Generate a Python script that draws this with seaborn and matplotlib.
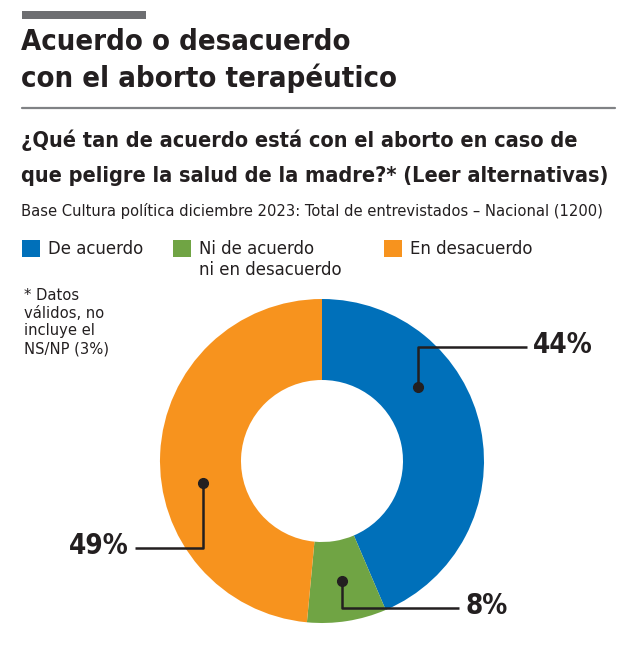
import matplotlib
matplotlib.use("Agg")
import matplotlib.pyplot as plt
import numpy as np
import seaborn as sns
from matplotlib.patches import Rectangle

# data
categories = ["De acuerdo", "Ni de acuerdo\nni en desacuerdo", "En desacuerdo"]
values = [44, 8, 49]
labels = ["44%", "8%", "49%"]
colors = ["#0070BA", "#70A444", "#F7931E"]

sns.set_theme(style="white")
plt.rcParams["font.family"] = ["DejaVu Sans"]
plt.rcParams["font.stretch"] = "condensed"
INK = "#231f20"

W, H = 640, 654
fig = plt.figure(figsize=(W / 100, H / 100), dpi=100)
ax = fig.add_axes([0, 0, 1, 1])

# donut centre (px) and scale (px per data unit)
cx, cy, s = 322, 461, 162

wedges, _ = ax.pie(values, colors=colors, startangle=90, counterclock=False,
                   radius=1, center=(0, 0),
                   wedgeprops=dict(width=0.5, linewidth=0))
ax.set_xlim(-cx / s, (W - cx) / s)
ax.set_ylim(-(H - cy) / s, cy / s)
ax.set_aspect("auto")
ax.axis("off")


def px(x, y):
    return x / W, 1 - y / H


def lines(x, baselines, texts, **kw):
    for yb, t in zip(baselines, texts):
        fig.text(*px(x, yb), t, va="baseline", color=INK, **kw)


# header
fig.patches.append(Rectangle(px(22, 19), 124 / W, 8 / H, transform=fig.transFigure,
                             color="#6d6e71", lw=0))
lines(21, [50, 87], ["Acuerdo o desacuerdo", "con el aborto terapéutico"],
      fontsize=21, fontweight="bold")
fig.add_artist(plt.Line2D([22 / W, 615 / W], [1 - 108 / H] * 2, color="#808285", lw=1.6))
lines(21, [147, 182], ["¿Qué tan de acuerdo está con el aborto en caso de",
                       "que peligre la salud de la madre?* (Leer alternativas)"],
      fontsize=15.6, fontweight="bold")
lines(21, [216], ["Base Cultura política diciembre 2023: Total de entrevistados – Nacional (1200)"],
      fontsize=11.8)

# legend
leg_x = [22, 173, 384]
for x0, cat, col in zip(leg_x, categories, colors):
    fig.patches.append(Rectangle(px(x0, 257), 18 / W, 17 / H, transform=fig.transFigure,
                                 color=col, lw=0))
    lines(x0 + 26, [254, 275], cat.split("\n"), fontsize=13.2)

lines(24, [300, 318, 335, 353], ["* Datos", "válidos, no", "incluye el", "NS/NP (3%)"],
      fontsize=11.8)

# leader lines: dot position within each wedge, elbow height, line end
dot_frac = [0.665, 0.52, 0.575]
elbow_y = [0.704, -0.907, -0.537]
end_x = [1.265, 0.846, -1.154]
for w, lab, f, ey, ex in zip(wedges, labels, dot_frac, elbow_y, end_x):
    ang = np.deg2rad(w.theta1 + f * (w.theta2 - w.theta1))
    dx, dy = 0.75 * np.cos(ang), 0.75 * np.sin(ang)
    ax.plot([dx, dx, ex], [dy, ey, ey], color=INK, lw=1.8, solid_capstyle="butt")
    ax.plot(dx, dy, "o", color=INK, ms=7)
    ha = "left" if ex > 0 else "right"
    tx = ex + (0.04 if ex > 0 else -0.04)
    ax.text(tx, ey - 0.04, lab, fontsize=20, fontweight="bold", color=INK,
            ha=ha, va="baseline", clip_on=False)

fig.savefig("out.png", dpi=100)
